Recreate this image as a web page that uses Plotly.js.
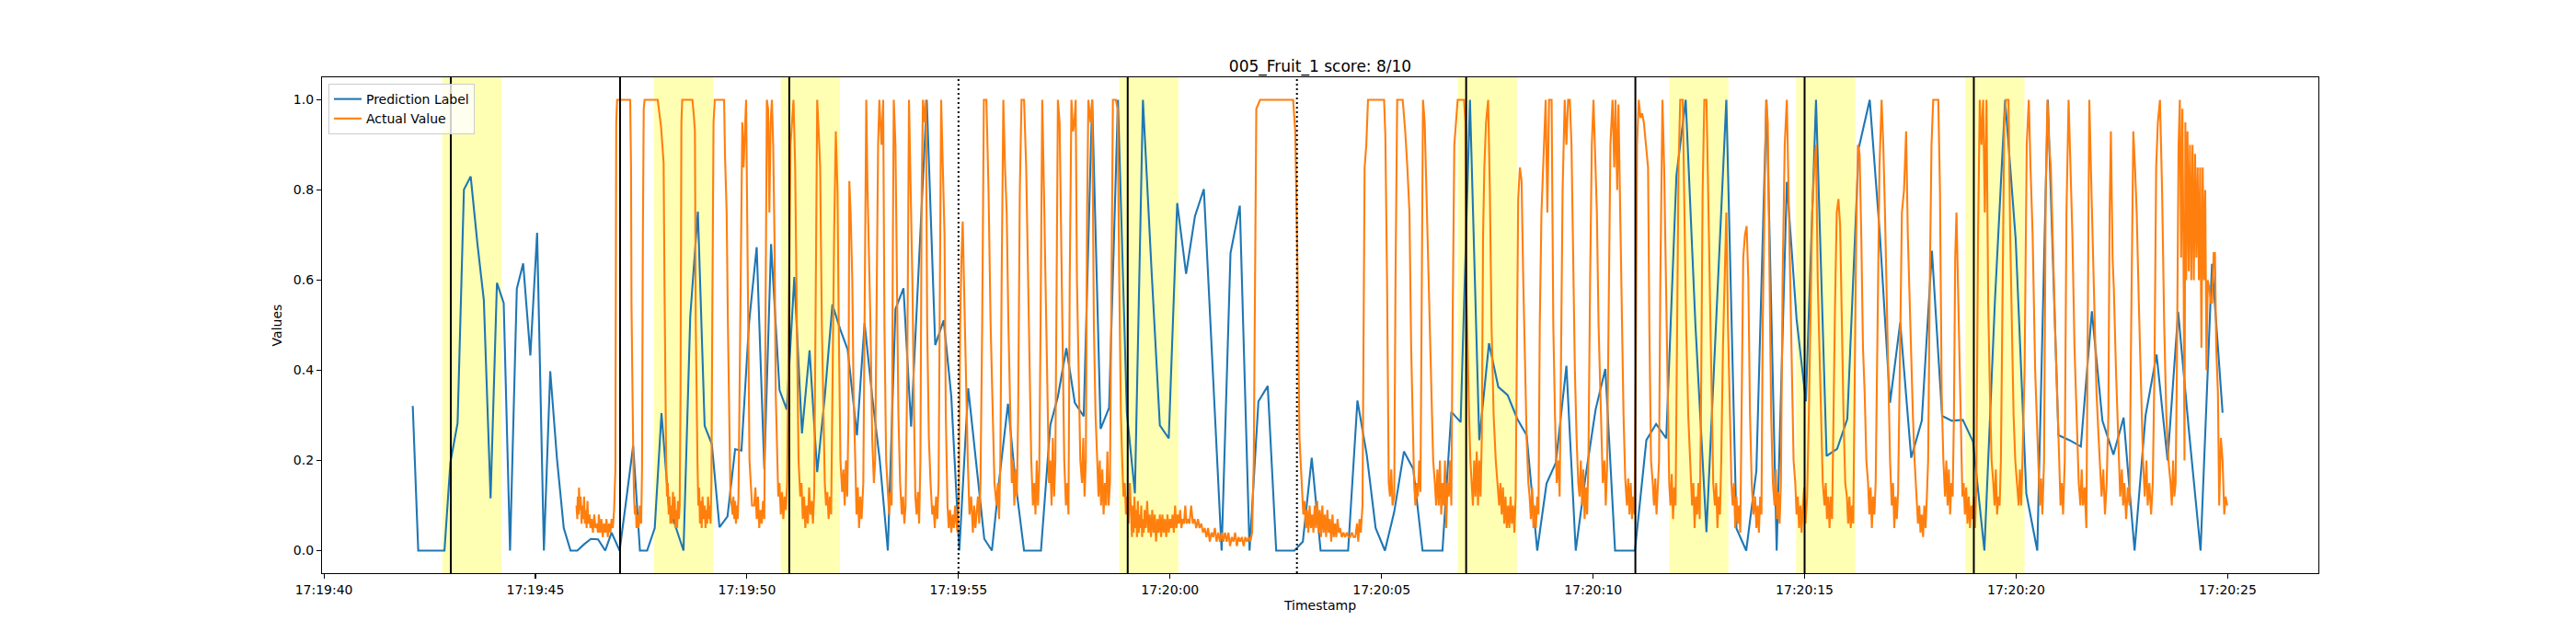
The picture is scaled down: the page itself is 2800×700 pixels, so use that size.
<!DOCTYPE html>
<html><head><meta charset="utf-8">
<script src="https://cdn.plot.ly/plotly-3.0.1.min.js"></script>
<style>html,body{margin:0;padding:0;background:#fff;}#chart{width:2800px;height:700px;}</style>
</head><body><div id="chart"></div>
<script>
// ---- data (seconds after 17:19:40) ----
const titleText = '005_Fruit_1 score: 8/10';
const seriesNames = ['Prediction Label', 'Actual Value'];
const xLabel = 'Timestamp';
const yLabel = 'Values';
const yTicks = [0, 0.2, 0.4, 0.6, 0.8, 1.0];

const predPoints = [
[2.10,0.321],[2.23,0.0],[2.39,0.0],[2.54,0.0],[2.70,0.0],[2.85,0.0],[2.99,0.196],[3.16,0.283],[3.31,0.801],[3.47,0.830],
[3.63,0.68],[3.78,0.556],[3.94,0.116],[4.09,0.594],[4.25,0.549],[4.40,0.0],[4.56,0.581],[4.71,0.637],[4.88,0.433],[5.04,0.705],
[5.20,0.0],[5.35,0.398],[5.51,0.203],[5.67,0.05],[5.83,0.0],[5.99,0.0],[6.15,0.014],[6.31,0.026],[6.48,0.025],[6.65,0.0],
[6.80,0.04],[6.99,0.0],[7.15,0.115],[7.31,0.233],[7.47,0.0],[7.64,0.0],[7.82,0.05],[7.98,0.305],[8.15,0.10],[8.32,0.05],
[8.50,0.0],[8.66,0.52],[8.84,0.752],[9.00,0.277],[9.17,0.236],[9.35,0.052],[9.54,0.076],[9.72,0.225],[9.87,0.222],[10.05,0.506],
[10.23,0.673],[10.41,0.181],[10.57,0.68],[10.77,0.356],[10.94,0.313],[11.12,0.607],[11.30,0.26],[11.48,0.444],[11.66,0.174],[11.84,0.342],
[12.02,0.546],[12.20,0.492],[12.38,0.446],[12.60,0.256],[12.78,0.505],[12.96,0.342],[13.14,0.20],[13.33,0.0],[13.51,0.536],[13.70,0.582],
[13.88,0.275],[14.06,0.628],[14.25,1.0],[14.45,0.456],[14.65,0.511],[14.83,0.342],[15.02,0.0],[15.23,0.36],[15.41,0.20],[15.61,0.026],
[15.79,0.0],[15.97,0.163],[16.17,0.326],[16.35,0.15],[16.55,0.0],[16.75,0.0],[16.95,0.0],[17.17,0.278],[17.35,0.342],[17.55,0.449],
[17.75,0.328],[17.96,0.298],[18.16,1.0],[18.36,0.27],[18.56,0.317],[18.77,1.0],[18.98,0.306],[19.17,0.127],[19.36,1.0],[19.56,0.628],
[19.76,0.278],[19.97,0.249],[20.17,0.771],[20.38,0.614],[20.59,0.742],[20.80,0.802],[21.01,0.40],[21.22,0.0],[21.43,0.66],[21.65,0.765],
[21.88,0.0],[22.09,0.331],[22.31,0.365],[22.51,0.0],[22.73,0.0],[22.94,0.0],[23.14,0.02],[23.35,0.206],[23.56,0.0],[23.78,0.0],
[24.00,0.0],[24.21,0.0],[24.43,0.333],[24.65,0.213],[24.86,0.05],[25.08,0.0],[25.30,0.086],[25.53,0.22],[25.75,0.181],[25.97,0.0],
[26.21,0.0],[26.44,0.0],[26.65,0.308],[26.87,0.285],[27.09,1.0],[27.31,0.245],[27.54,0.46],[27.76,0.363],[27.98,0.345],[28.21,0.292],
[28.43,0.256],[28.68,0.0],[28.90,0.149],[29.12,0.195],[29.37,0.41],[29.59,0.0],[29.82,0.163],[30.06,0.313],[30.29,0.403],[30.52,0.0],
[30.76,0.0],[30.99,0.0],[31.26,0.245],[31.49,0.281],[31.73,0.249],[31.97,0.832],[32.19,1.0],[32.42,0.5],[32.68,0.041],[32.91,0.52],
[33.15,1.0],[33.39,0.049],[33.62,0.0],[33.86,0.177],[34.10,1.0],[34.34,0.0],[34.58,0.818],[34.81,0.514],[35.03,0.331],[35.27,1.0],
[35.52,0.21],[35.77,0.226],[36.01,0.292],[36.28,0.893],[36.54,1.0],[36.78,0.70],[37.02,0.328],[37.26,0.506],[37.52,0.206],[37.77,0.288],
[38.01,0.665],[38.25,0.299],[38.48,0.288],[38.74,0.29],[38.98,0.242],[39.25,0.0],[39.50,0.556],[39.74,1.0],[39.99,0.69],[40.24,0.127],
[40.50,0.0],[40.75,1.0],[41.00,0.256],[41.26,0.245],[41.53,0.231],[41.79,0.531],[42.04,0.288],[42.30,0.213],[42.54,0.295],[42.80,0.0],
[43.06,0.30],[43.32,0.435],[43.58,0.20],[43.83,0.53],[44.08,0.27],[44.36,0.0],[44.63,0.636],[44.88,0.306]
];

const actualPoints = [
[5.97,0.10],[5.99,0.07],[6.00,0.12],[6.02,0.08],[6.03,0.14],[6.05,0.09],[6.07,0.12],[6.09,0.06],[6.11,0.10],[6.13,0.07],
[6.15,0.12],[6.17,0.06],[6.19,0.09],[6.21,0.05],[6.23,0.11],[6.25,0.06],[6.28,0.08],[6.30,0.05],[6.33,0.07],[6.36,0.04],
[6.39,0.08],[6.42,0.05],[6.45,0.06],[6.48,0.04],[6.50,0.08],[6.53,0.04],[6.56,0.07],[6.59,0.03],[6.62,0.06],[6.65,0.04],
[6.68,0.07],[6.71,0.03],[6.74,0.06],[6.77,0.04],[6.80,0.07],[6.83,0.05],[6.86,0.09],[6.89,0.18],[6.91,0.95],[6.93,1.0],
[7.24,1.0],[7.26,0.85],[7.27,0.55],[7.29,0.3],[7.31,0.23],[7.33,0.12],[7.35,0.08],[7.37,0.1],[7.39,0.05],[7.41,0.08],
[7.43,0.05],[7.45,0.06],[7.47,0.1],[7.50,0.06],[7.52,0.18],[7.54,0.7],[7.56,0.98],[7.58,1.0],[7.89,1.0],[7.93,0.97],
[7.97,0.94],[8.00,0.9],[8.03,0.86],[8.05,0.6],[8.07,0.3],[8.09,0.2],[8.11,0.12],[8.13,0.15],[8.15,0.08],[8.17,0.12],
[8.19,0.06],[8.21,0.1],[8.23,0.06],[8.25,0.13],[8.27,0.07],[8.29,0.12],[8.31,0.05],[8.33,0.09],[8.35,0.05],[8.37,0.11],
[8.39,0.07],[8.41,0.1],[8.43,0.35],[8.45,0.95],[8.47,1.0],[8.71,1.0],[8.74,0.97],[8.77,0.93],[8.79,0.5],[8.81,0.25],
[8.83,0.2],[8.85,0.1],[8.87,0.14],[8.89,0.06],[8.91,0.11],[8.93,0.05],[8.95,0.12],[8.97,0.07],[9.00,0.1],[9.02,0.05],
[9.04,0.09],[9.06,0.06],[9.08,0.12],[9.10,0.07],[9.12,0.1],[9.14,0.06],[9.16,0.15],[9.18,0.5],[9.21,0.95],[9.24,1.0],
[9.46,1.0],[9.48,0.88],[9.50,0.8],[9.52,0.75],[9.55,0.5],[9.58,0.25],[9.61,0.12],[9.64,0.1],[9.66,0.08],[9.68,0.12],
[9.70,0.07],[9.72,0.11],[9.74,0.06],[9.76,0.1],[9.78,0.07],[9.80,0.12],[9.83,0.4],[9.86,0.65],[9.89,0.95],[9.92,0.85],
[9.95,0.95],[9.98,1.0],[10.00,0.8],[10.03,0.5],[10.06,0.2],[10.09,0.15],[10.12,0.1],[10.17,0.1],[10.20,0.14],[10.23,0.07],
[10.26,0.12],[10.29,0.05],[10.32,0.09],[10.35,0.06],[10.38,0.11],[10.41,0.07],[10.44,0.5],[10.47,1.0],[10.50,0.98],[10.53,0.75],
[10.56,0.95],[10.59,1.0],[10.62,0.9],[10.65,0.7],[10.68,0.35],[10.71,0.2],[10.74,0.12],[10.77,0.15],[10.80,0.08],[10.83,0.13],
[10.86,0.07],[10.89,0.12],[10.92,0.09],[10.95,0.15],[10.98,0.45],[11.03,0.9],[11.10,1.0],[11.14,0.85],[11.18,0.5],[11.22,0.2],
[11.26,0.12],[11.29,0.15],[11.32,0.07],[11.35,0.12],[11.38,0.05],[11.41,0.1],[11.44,0.06],[11.47,0.14],[11.50,0.08],[11.53,0.11],
[11.56,0.06],[11.59,0.13],[11.62,0.5],[11.66,1.0],[11.70,0.92],[11.73,0.85],[11.77,0.5],[11.81,0.25],[11.84,0.15],[11.87,0.1],
[11.90,0.13],[11.93,0.07],[11.96,0.12],[11.99,0.08],[12.03,0.5],[12.06,0.7],[12.10,0.93],[12.14,0.8],[12.17,0.5],[12.21,0.2],
[12.25,0.13],[12.28,0.18],[12.31,0.1],[12.34,0.2],[12.37,0.12],[12.40,0.3],[12.42,0.82],[12.45,0.75],[12.49,0.6],[12.52,0.35],
[12.56,0.2],[12.59,0.08],[12.62,0.14],[12.65,0.05],[12.68,0.12],[12.71,0.07],[12.75,0.15],[12.78,0.6],[12.82,1.0],[12.85,0.8],
[12.89,0.65],[12.92,0.5],[12.96,0.25],[13.00,0.15],[13.03,0.2],[13.06,0.5],[13.10,0.9],[13.13,1.0],[13.18,0.9],[13.22,1.0],
[13.25,0.5],[13.29,0.2],[13.33,0.12],[13.36,0.08],[13.39,0.13],[13.42,0.1],[13.45,0.7],[13.47,1.0],[13.51,0.9],[13.55,0.6],
[13.58,0.3],[13.62,0.15],[13.66,0.08],[13.69,0.12],[13.72,0.06],[13.75,0.1],[13.79,0.4],[13.83,1.0],[13.87,0.8],[13.91,0.6],
[13.95,0.3],[13.98,0.12],[14.01,0.08],[14.04,0.13],[14.07,0.06],[14.10,0.2],[14.13,0.8],[14.16,1.0],[14.20,0.95],[14.23,1.0],
[14.26,0.5],[14.30,0.25],[14.34,0.15],[14.38,0.08],[14.41,0.1],[14.44,0.05],[14.47,0.12],[14.50,0.07],[14.53,0.15],[14.56,0.6],
[14.59,1.0],[14.63,0.85],[14.67,0.7],[14.70,0.3],[14.74,0.1],[14.77,0.05],[14.80,0.09],[14.83,0.04],[14.86,0.08],[14.89,0.05],
[14.92,0.1],[14.95,0.06],[14.98,0.04],[15.01,0.12],[15.04,0.5],[15.07,0.65],[15.10,0.73],[15.14,0.55],[15.18,0.35],[15.22,0.2],
[15.26,0.08],[15.30,0.12],[15.34,0.04],[15.37,0.1],[15.40,0.05],[15.43,0.08],[15.46,0.12],[15.49,0.06],[15.52,0.15],[15.56,0.5],
[15.60,1.0],[15.66,1.0],[15.71,0.8],[15.76,0.5],[15.81,0.3],[15.85,0.15],[15.90,0.1],[15.93,0.15],[15.96,0.07],[15.99,0.2],
[16.02,0.6],[16.06,1.0],[16.10,0.85],[16.14,0.75],[16.18,0.5],[16.22,0.3],[16.26,0.15],[16.29,0.2],[16.32,0.1],[16.35,0.18],
[16.38,0.12],[16.41,0.3],[16.45,0.8],[16.49,1.0],[16.55,1.0],[16.60,0.85],[16.64,0.6],[16.68,0.35],[16.72,0.2],[16.76,0.1],
[16.79,0.15],[16.82,0.08],[16.85,0.2],[16.88,0.1],[16.91,0.18],[16.94,0.5],[16.98,1.0],[17.02,0.8],[17.06,0.55],[17.10,0.3],
[17.14,0.15],[17.17,0.2],[17.20,0.1],[17.23,0.25],[17.26,0.12],[17.29,0.2],[17.32,0.7],[17.35,1.0],[17.39,0.95],[17.42,0.75],
[17.46,0.4],[17.50,0.2],[17.54,0.1],[17.57,0.15],[17.60,0.08],[17.63,0.6],[17.67,1.0],[17.71,0.93],[17.74,0.95],[17.77,1.0],
[17.80,0.6],[17.84,0.35],[17.88,0.2],[17.92,0.15],[17.95,0.25],[17.98,0.12],[18.01,0.2],[18.04,0.75],[18.07,1.0],[18.12,0.95],
[18.16,1.0],[18.20,0.5],[18.24,0.3],[18.28,0.2],[18.31,0.12],[18.34,0.2],[18.37,0.1],[18.40,0.18],[18.43,0.08],[18.46,0.15],
[18.49,0.1],[18.52,0.22],[18.55,0.1],[18.58,0.15],[18.61,0.5],[18.65,1.0],[18.72,1.0],[18.76,0.98],[18.80,0.6],[18.84,0.3],
[18.87,0.2],[18.90,0.12],[18.93,0.15],[18.96,0.08],[18.99,0.12],[19.02,0.06],[19.05,0.15],[19.08,0.08],[19.10,0.03],[19.12,0.1],
[19.14,0.04],[19.16,0.12],[19.18,0.05],[19.20,0.09],[19.22,0.03],[19.24,0.11],[19.26,0.04],[19.28,0.08],[19.30,0.05],[19.32,0.1],
[19.34,0.03],[19.36,0.07],[19.38,0.04],[19.40,0.09],[19.43,0.05],[19.46,0.11],[19.49,0.04],[19.52,0.08],[19.55,0.03],[19.58,0.09],
[19.61,0.04],[19.64,0.08],[19.67,0.02],[19.70,0.07],[19.73,0.04],[19.76,0.08],[19.79,0.03],[19.82,0.08],[19.85,0.04],[19.88,0.07],
[19.91,0.03],[19.94,0.08],[19.97,0.04],[20.00,0.07],[20.03,0.05],[20.06,0.08],[20.09,0.04],[20.12,0.1],[20.15,0.05],[20.18,0.08],
[20.21,0.06],[20.24,0.09],[20.27,0.05],[20.30,0.07],[20.33,0.06],[20.36,0.1],[20.39,0.06],[20.42,0.07],[20.46,0.06],[20.50,0.1],
[20.54,0.06],[20.58,0.07],[20.62,0.05],[20.66,0.07],[20.70,0.05],[20.74,0.06],[20.78,0.04],[20.82,0.05],[20.86,0.03],[20.90,0.05],
[20.94,0.02],[20.98,0.04],[21.02,0.03],[21.06,0.05],[21.10,0.02],[21.14,0.04],[21.18,0.02],[21.22,0.04],[21.26,0.02],[21.30,0.04],
[21.34,0.02],[21.38,0.04],[21.42,0.01],[21.46,0.03],[21.50,0.02],[21.54,0.04],[21.58,0.01],[21.62,0.03],[21.66,0.02],[21.70,0.03],
[21.74,0.01],[21.78,0.03],[21.82,0.02],[21.86,0.03],[21.90,0.02],[21.94,0.04],[21.98,0.2],[22.01,0.6],[22.04,0.98],[22.13,1.0],
[22.91,1.0],[22.96,0.93],[23.01,0.65],[23.06,0.25],[23.12,0.12],[23.15,0.08],[23.18,0.11],[23.21,0.05],[23.24,0.09],[23.27,0.04],
[23.30,0.1],[23.33,0.05],[23.36,0.08],[23.39,0.04],[23.42,0.1],[23.45,0.05],[23.48,0.11],[23.51,0.04],[23.54,0.09],[23.57,0.03],
[23.60,0.1],[23.63,0.04],[23.66,0.08],[23.69,0.03],[23.72,0.09],[23.75,0.04],[23.78,0.07],[23.81,0.02],[23.84,0.08],[23.87,0.03],
[23.90,0.06],[23.93,0.03],[23.96,0.07],[23.99,0.04],[24.02,0.05],[24.06,0.03],[24.10,0.04],[24.14,0.03],[24.18,0.04],[24.22,0.03],
[24.26,0.03],[24.30,0.04],[24.34,0.03],[24.38,0.03],[24.42,0.06],[24.45,0.02],[24.48,0.07],[24.51,0.04],[24.55,0.1],[24.58,0.5],
[24.60,0.85],[24.64,0.9],[24.68,1.0],[25.06,1.0],[25.09,0.92],[25.13,0.6],[25.17,0.15],[25.20,0.12],[25.23,0.18],[25.26,0.1],
[25.30,0.12],[25.33,0.6],[25.37,1.0],[25.50,1.0],[25.56,0.93],[25.61,0.85],[25.66,0.75],[25.70,0.45],[25.74,0.25],[25.77,0.15],
[25.80,0.1],[25.83,0.15],[25.86,0.12],[25.89,0.2],[25.92,0.13],[25.95,0.5],[25.98,1.0],[26.02,0.95],[26.06,0.8],[26.10,0.7],
[26.14,0.55],[26.18,0.35],[26.22,0.2],[26.26,0.15],[26.29,0.1],[26.32,0.18],[26.35,0.1],[26.38,0.2],[26.41,0.08],[26.44,0.15],
[26.47,0.1],[26.50,0.2],[26.53,0.05],[26.56,0.15],[26.59,0.12],[26.62,0.2],[26.65,0.1],[26.68,0.5],[26.72,0.9],[26.76,0.95],
[26.80,1.0],[26.95,1.0],[26.98,0.95],[27.00,0.6],[27.03,0.45],[27.07,0.3],[27.10,0.2],[27.13,0.15],[27.16,0.1],[27.19,0.2],
[27.22,0.12],[27.25,0.22],[27.28,0.1],[27.31,0.2],[27.34,0.12],[27.37,0.25],[27.40,0.7],[27.43,0.85],[27.47,0.95],[27.52,1.0],
[27.56,0.8],[27.60,0.5],[27.65,0.3],[27.70,0.2],[27.74,0.15],[27.78,0.1],[27.81,0.15],[27.84,0.08],[27.87,0.14],[27.90,0.06],
[27.93,0.12],[27.96,0.05],[27.99,0.1],[28.02,0.05],[28.05,0.12],[28.08,0.06],[28.11,0.1],[28.14,0.04],[28.17,0.12],[28.20,0.4],
[28.23,0.78],[28.27,0.85],[28.31,0.82],[28.35,0.6],[28.39,0.4],[28.43,0.25],[28.47,0.15],[28.50,0.12],[28.53,0.07],[28.56,0.14],
[28.59,0.05],[28.62,0.1],[28.65,0.05],[28.68,0.12],[28.71,0.08],[28.74,0.5],[28.78,0.75],[28.83,0.88],[28.88,1.0],[28.92,0.75],
[28.96,1.0],[29.02,1.0],[29.06,0.5],[29.10,0.3],[29.14,0.15],[29.18,0.2],[29.21,0.12],[29.24,0.4],[29.28,0.8],[29.33,1.0],
[29.37,0.9],[29.41,1.0],[29.45,1.0],[29.49,0.9],[29.53,0.6],[29.57,0.4],[29.61,0.25],[29.65,0.15],[29.68,0.12],[29.71,0.2],
[29.74,0.1],[29.77,0.18],[29.80,0.07],[29.83,0.14],[29.86,0.08],[29.89,0.2],[29.93,0.6],[29.97,0.9],[30.01,1.0],[30.05,0.88],
[30.09,0.75],[30.13,0.5],[30.18,0.3],[30.23,0.15],[30.27,0.2],[30.30,0.1],[30.33,0.18],[30.37,0.5],[30.41,0.9],[30.46,1.0],
[30.50,0.85],[30.53,1.0],[30.57,0.8],[30.60,0.99],[30.64,0.75],[30.68,0.45],[30.72,0.3],[30.76,0.16],[30.80,0.1],[30.83,0.16],
[30.86,0.08],[30.89,0.15],[30.92,0.07],[30.95,0.12],[30.98,0.08],[31.01,0.4],[31.04,0.9],[31.08,1.0],[31.12,0.96],[31.16,0.97],
[31.20,0.95],[31.25,0.9],[31.30,0.85],[31.33,0.5],[31.37,0.2],[31.41,0.15],[31.44,0.1],[31.47,0.16],[31.50,0.08],[31.53,0.14],
[31.56,0.2],[31.59,0.6],[31.64,1.0],[31.68,0.85],[31.72,0.6],[31.76,0.4],[31.80,0.15],[31.83,0.1],[31.86,0.17],[31.89,0.07],
[31.92,0.14],[31.95,0.1],[31.98,0.5],[32.02,0.85],[32.06,1.0],[32.12,1.0],[32.16,0.75],[32.20,0.5],[32.25,0.3],[32.30,0.2],
[32.34,0.1],[32.37,0.15],[32.40,0.05],[32.43,0.12],[32.46,0.08],[32.49,0.15],[32.52,0.07],[32.55,0.3],[32.59,0.8],[32.63,1.0],
[32.68,1.0],[32.72,0.8],[32.76,0.55],[32.80,0.3],[32.84,0.15],[32.88,0.1],[32.91,0.15],[32.94,0.05],[32.97,0.12],[33.00,0.08],
[33.03,0.2],[33.07,0.45],[33.11,0.6],[33.15,0.75],[33.19,0.5],[33.23,0.3],[33.27,0.15],[33.30,0.1],[33.33,0.15],[33.36,0.05],
[33.39,0.12],[33.42,0.06],[33.45,0.1],[33.48,0.04],[33.51,0.3],[33.55,0.65],[33.59,0.7],[33.63,0.72],[33.67,0.6],[33.71,0.3],
[33.75,0.15],[33.79,0.08],[33.83,0.12],[33.86,0.05],[33.89,0.1],[33.92,0.04],[33.95,0.12],[33.98,0.08],[34.01,0.5],[34.05,0.8],
[34.09,1.0],[34.13,0.95],[34.17,0.65],[34.21,0.3],[34.25,0.15],[34.29,0.1],[34.32,0.18],[34.35,0.07],[34.38,0.13],[34.41,0.06],
[34.44,0.15],[34.48,0.6],[34.53,0.9],[34.58,1.0],[34.62,0.8],[34.66,0.6],[34.70,0.4],[34.74,0.2],[34.78,0.15],[34.81,0.08],
[34.84,0.12],[34.87,0.05],[34.90,0.1],[34.93,0.04],[34.96,0.1],[34.99,0.14],[35.02,0.06],[35.06,0.12],[35.10,0.3],[35.14,0.5],
[35.18,0.75],[35.23,0.85],[35.27,0.9],[35.31,0.6],[35.35,0.45],[35.39,0.25],[35.43,0.15],[35.47,0.1],[35.50,0.15],[35.53,0.07],
[35.56,0.12],[35.59,0.05],[35.62,0.12],[35.65,0.07],[35.68,0.3],[35.72,0.55],[35.76,0.75],[35.80,0.78],[35.84,0.72],[35.88,0.5],
[35.92,0.3],[35.96,0.15],[36.00,0.12],[36.03,0.06],[36.06,0.12],[36.09,0.05],[36.12,0.1],[36.15,0.06],[36.18,0.35],[36.22,0.7],
[36.26,0.9],[36.30,0.88],[36.34,0.7],[36.38,0.45],[36.42,0.35],[36.46,0.2],[36.50,0.15],[36.53,0.08],[36.56,0.14],[36.59,0.05],
[36.62,0.12],[36.65,0.08],[36.68,0.15],[36.72,0.5],[36.77,0.85],[36.82,1.0],[36.86,0.9],[36.90,0.75],[36.94,0.55],[36.98,0.35],
[37.02,0.2],[37.06,0.1],[37.09,0.15],[37.12,0.05],[37.15,0.12],[37.18,0.07],[37.21,0.13],[37.25,0.4],[37.30,0.75],[37.35,0.8],
[37.40,0.93],[37.44,0.7],[37.48,0.55],[37.52,0.4],[37.56,0.3],[37.60,0.2],[37.64,0.12],[37.68,0.06],[37.71,0.1],[37.74,0.04],
[37.77,0.08],[37.80,0.03],[37.83,0.1],[37.86,0.05],[37.89,0.12],[37.92,0.2],[37.96,0.6],[38.00,0.9],[38.04,1.0],[38.16,1.0],
[38.20,0.8],[38.24,0.35],[38.28,0.2],[38.32,0.12],[38.35,0.2],[38.38,0.1],[38.41,0.18],[38.44,0.08],[38.47,0.15],[38.50,0.12],
[38.53,0.3],[38.56,0.65],[38.59,0.75],[38.62,0.6],[38.66,0.45],[38.70,0.2],[38.73,0.12],[38.76,0.15],[38.79,0.08],[38.82,0.14],
[38.85,0.06],[38.88,0.12],[38.91,0.05],[38.94,0.1],[38.97,0.07],[39.00,0.12],[39.03,0.05],[39.06,0.15],[39.10,0.7],[39.14,1.0],
[39.18,0.9],[39.22,1.0],[39.26,0.75],[39.30,1.0],[39.34,0.55],[39.38,0.35],[39.42,0.2],[39.46,0.15],[39.49,0.1],[39.52,0.18],
[39.55,0.08],[39.58,0.12],[39.61,0.1],[39.64,0.2],[39.68,0.6],[39.72,0.95],[39.76,1.0],[39.82,1.0],[39.86,0.7],[39.90,0.5],
[39.94,0.3],[39.98,0.2],[40.02,0.15],[40.06,0.1],[40.09,0.18],[40.12,0.1],[40.15,0.2],[40.20,0.4],[40.25,0.9],[40.30,1.0],
[40.34,0.85],[40.39,0.7],[40.45,0.4],[40.50,0.25],[40.53,0.15],[40.56,0.1],[40.59,0.16],[40.62,0.08],[40.66,0.2],[40.70,0.8],
[40.74,1.0],[40.78,0.9],[40.82,0.85],[40.87,0.65],[40.92,0.5],[40.97,0.35],[41.01,0.2],[41.05,0.1],[41.08,0.15],[41.11,0.08],
[41.15,0.2],[41.19,0.75],[41.24,1.0],[41.28,0.85],[41.33,0.7],[41.38,0.45],[41.44,0.25],[41.48,0.15],[41.52,0.1],[41.55,0.18],
[41.58,0.1],[41.62,0.14],[41.66,0.05],[41.70,0.6],[41.73,1.0],[41.78,0.8],[41.84,0.6],[41.90,0.35],[41.95,0.25],[41.98,0.2],
[42.02,0.12],[42.06,0.18],[42.10,0.08],[42.14,0.15],[42.18,0.3],[42.21,0.75],[42.24,0.93],[42.28,0.65],[42.31,0.58],[42.36,0.4],
[42.42,0.2],[42.46,0.12],[42.50,0.18],[42.53,0.1],[42.56,0.15],[42.60,0.07],[42.64,0.14],[42.68,0.1],[42.72,0.5],[42.77,0.93],
[42.81,0.85],[42.85,0.75],[42.90,0.55],[42.96,0.3],[43.00,0.2],[43.04,0.12],[43.08,0.2],[43.11,0.1],[43.15,0.15],[43.19,0.08],
[43.23,0.15],[43.27,0.4],[43.31,0.85],[43.35,0.95],[43.40,1.0],[43.45,0.8],[43.50,0.5],[43.55,0.3],[43.60,0.2],[43.65,0.15],
[43.68,0.1],[43.71,0.2],[43.74,0.12],[43.77,0.15],[43.80,0.4],[43.84,0.9],[43.87,1.0],[43.90,0.65],[43.93,0.98],[43.96,0.6],
[43.98,0.2],[44.00,0.95],[44.02,0.6],[44.05,0.93],[44.08,0.62],[44.11,0.9],[44.14,0.6],[44.17,0.9],[44.20,0.6],[44.23,0.88],
[44.26,0.65],[44.29,0.85],[44.32,0.6],[44.35,0.85],[44.38,0.45],[44.41,0.85],[44.44,0.6],[44.47,0.8],[44.50,0.4],[44.53,0.6],
[44.57,0.58],[44.60,0.55],[44.63,0.55],[44.67,0.66],[44.70,0.66],[44.73,0.45],[44.77,0.35],[44.80,0.1],[44.84,0.25],[44.88,0.2],
[44.92,0.08],[44.95,0.12],[44.99,0.1]
];

const highlightStarts = [2.8, 7.8, 10.8, 18.8, 26.8, 31.8, 34.8, 38.8];
const highlightEnds   = [4.2, 9.2, 12.2, 20.2, 28.2, 33.2, 36.2, 40.2];
const solidMarks  = [3, 7, 11, 19, 27, 31, 35, 39];
const dottedMarks = [15, 23];
const xRangeSec = [-0.045, 47.145];

// ---- helpers ----
const BASE_MS = Date.UTC(2024, 0, 1, 17, 19, 40);
function toDate(sec) {
  const d = new Date(BASE_MS + Math.round(sec * 1000));
  return d.toISOString().replace('T', ' ').replace('Z', '');
}

const FONT = 'DejaVu Sans, Liberation Sans, sans-serif';

const traces = [
  {
    type: 'scatter', mode: 'lines', name: seriesNames[0],
    x: predPoints.map(p => toDate(p[0])), y: predPoints.map(p => p[1]),
    line: {color: '#1f77b4', width: 2.1}, hoverinfo: 'skip'
  },
  {
    type: 'scatter', mode: 'lines', name: seriesNames[1],
    x: actualPoints.map(p => toDate(p[0])), y: actualPoints.map(p => p[1]),
    line: {color: '#ff7f0e', width: 2.1}, hoverinfo: 'skip'
  }
];

const shapes = [];
highlightStarts.forEach((s, i) => {
  shapes.push({type: 'rect', xref: 'x', yref: 'paper', x0: toDate(s), x1: toDate(highlightEnds[i]),
    y0: 0, y1: 1, fillcolor: 'rgb(255,255,179)', line: {width: 0}, layer: 'below'});
});
solidMarks.forEach(s => {
  shapes.push({type: 'line', xref: 'x', yref: 'paper', x0: toDate(s), x1: toDate(s), y0: 0, y1: 1,
    line: {color: '#000', width: 2}, layer: 'above'});
});
dottedMarks.forEach(s => {
  shapes.push({type: 'line', xref: 'x', yref: 'paper', x0: toDate(s), x1: toDate(s), y0: 0, y1: 1,
    line: {color: '#000', width: 2, dash: '2px,3px'}, layer: 'above'});
});

const layout = {
  width: 2800, height: 700,
  margin: {l: 350, r: 280, t: 84, b: 77, pad: 0},
  paper_bgcolor: '#ffffff', plot_bgcolor: '#ffffff',
  font: {family: FONT, size: 14, color: '#000'},
  title: {text: titleText, font: {family: FONT, size: 17, color: '#000'},
    x: 0.5, xref: 'paper', xanchor: 'center', y: 1, yref: 'paper', yanchor: 'bottom', pad: {b: 6}},
  showlegend: true,
  legend: {x: 0.0032, y: 0.987, xanchor: 'left', yanchor: 'top',
    bgcolor: 'rgba(255,255,255,0.8)', bordercolor: '#cccccc', borderwidth: 1,
    font: {family: FONT, size: 14, color: '#000'}, itemwidth: 30, tracegroupgap: 0},
  xaxis: {
    type: 'date', range: [toDate(xRangeSec[0]), toDate(xRangeSec[1])],
    tick0: toDate(0), dtick: 5000, tickformat: '%H:%M:%S',
    ticks: 'outside', ticklen: 5, tickwidth: 1.1, tickcolor: '#000',
    showline: true, linecolor: '#000', linewidth: 1.1, mirror: true,
    showgrid: false, zeroline: false,
    tickfont: {family: FONT, size: 14, color: '#000'},
    title: {text: xLabel, font: {family: FONT, size: 14, color: '#000'}, standoff: 5}
  },
  yaxis: {
    range: [-0.05, 1.05], tickvals: yTicks, tickformat: '.1f',
    ticks: 'outside', ticklen: 5, tickwidth: 1.1, tickcolor: '#000',
    showline: true, linecolor: '#000', linewidth: 1.1, mirror: true,
    showgrid: false, zeroline: false,
    tickfont: {family: FONT, size: 14, color: '#000'},
    title: {text: yLabel, font: {family: FONT, size: 14, color: '#000'}, standoff: 8}
  },
  shapes: shapes,
  hovermode: false
};

Plotly.newPlot('chart', traces, layout, {staticPlot: true, displayModeBar: false});
</script>
</body></html>
